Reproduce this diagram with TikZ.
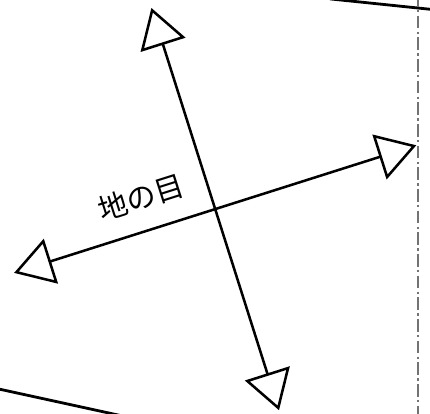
\documentclass[tikz,border=0pt]{standalone}
\usepackage{fontspec}
\newfontfamily\cjk{Noto Sans CJK JP}
\usetikzlibrary{arrows.meta}
\tikzset{
  grainline/.style={line width=1.9pt,
    {Triangle[open,length=29pt,width=35pt]}-{Triangle[open,length=29pt,width=35pt]}},
  edgeline/.style={line width=2.1pt},
  foldline/.style={black!55, line width=1.8pt,
    dash pattern=on 9.5pt off 2.5pt on 1.75pt off 2.5pt},
  grainlabel/.style={font=\cjk\fontsize{22}{22}\selectfont, inner sep=0pt},
}
\begin{document}
\begin{tikzpicture}[x=0.75pt, y=0.75pt]
  \useasboundingbox (0,0) rectangle (430,414);
  \clip (0,0) rectangle (430,414);
  % Pattern edges
  \coordinate (tl) at (330,415.1);
  \coordinate (tr) at (440,403.7);
  \coordinate (bl) at (-10,26.9);
  \coordinate (br) at (123,-2.1);
  \draw[edgeline] (tl) -- (tr);
  \draw[edgeline] (bl) -- (br);
  % Fold line
  \coordinate (ftop) at (418.3,420);
  \coordinate (fbot) at (418.3,-6);
  \draw[foldline] (ftop) -- (fbot);
  % Grain arrows
  \begin{scope}[shift={(215.2,204.9)}, rotate=17.6]
    \coordinate (gn) at (0,211);
    \coordinate (gs) at (0,-211);
    \coordinate (ge) at (211,0);
    \coordinate (gw) at (-211,0);
    \draw[grainline] (gs) -- (gn);
    \draw[grainline] (gw) -- (ge);
    \node[grainlabel, rotate=17.6] (grain) at (-67,33.5) {地の目};
  \end{scope}
\end{tikzpicture}
\end{document}
